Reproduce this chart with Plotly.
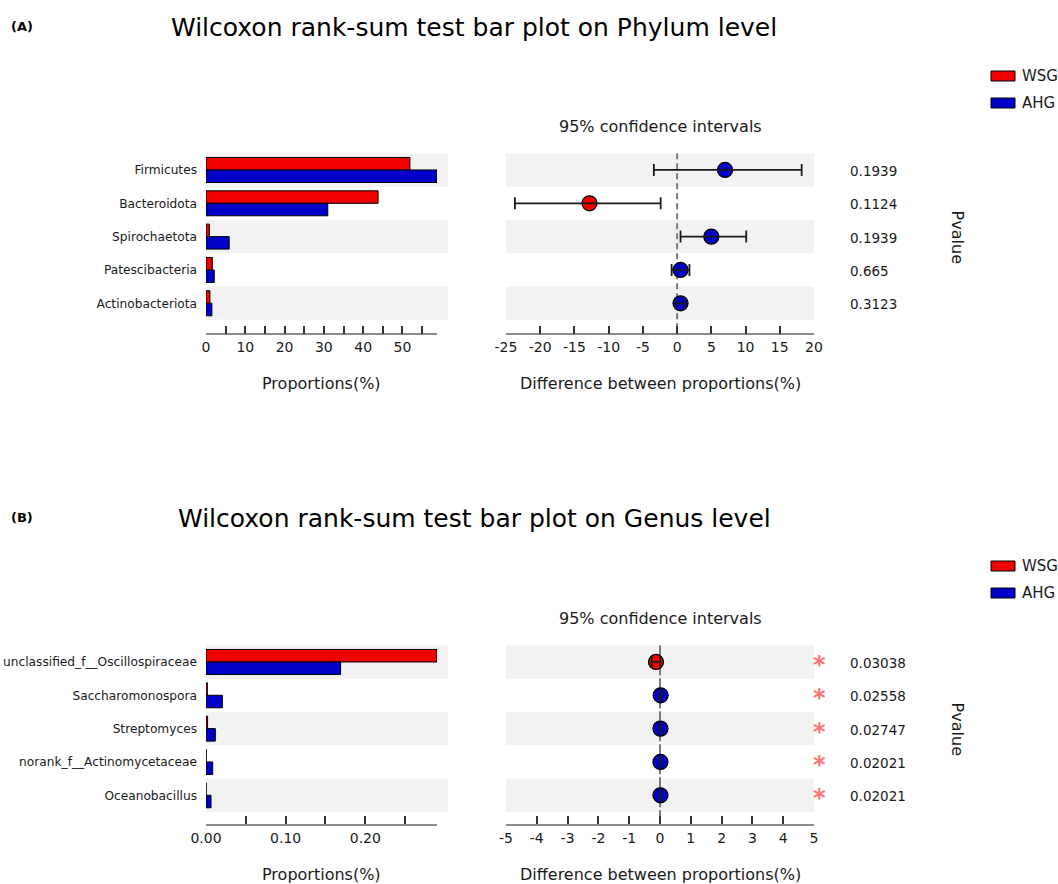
import plotly.graph_objects as go

# ---------------- data ----------------
phylum = ["Firmicutes", "Bacteroidota", "Spirochaetota", "Patescibacteria", "Actinobacteriota"]
phylum_wsg = [51.9, 43.8, 0.85, 1.6, 1.0]
phylum_ahg = [58.8, 31.0, 5.9, 2.1, 1.5]
phylum_diff = [7.0, -12.8, 5.0, 0.5, 0.5]
phylum_ci_low = [-3.4, -23.7, 0.5, -0.8, -0.2]
phylum_ci_high = [18.2, -2.4, 10.1, 1.8, 1.2]
phylum_p = ["0.1939", "0.1124", "0.1939", "0.665", "0.3123"]

genus = ["unclassified_f__Oscillospiraceae", "Saccharomonospora", "Streptomyces",
         "norank_f__Actinomycetaceae", "Oceanobacillus"]
genus_wsg = [0.290, 0.0017, 0.0020, 0.0002, 0.0001]
genus_ahg = [0.169, 0.0205, 0.0117, 0.0084, 0.0063]
genus_diff = [-0.13, 0.02, 0.015, 0.015, 0.015]
genus_ci_low = [-0.27, 0.005, 0.004, 0.004, 0.004]
genus_ci_high = [0.01, 0.035, 0.026, 0.026, 0.026]
genus_p = ["0.03038", "0.02558", "0.02747", "0.02021", "0.02021"]

groups = ["WSG", "AHG"]
group_colors = {"WSG": "#F00000", "AHG": "#0000C8"}

# ---------------- layout helpers ----------------
W, H = 1058, 884
FONT = "DejaVu Sans"
TXT = "#1a1a1a"
BAND = "#F2F2F2"
AXIS = "#8a8a8a"


def px(x):
    return x / W


def py(y):
    return 1 - y / H


fig = go.Figure()

panels = [
    dict(rows=phylum, wsg=phylum_wsg, ahg=phylum_ahg, diff=phylum_diff,
         lo=phylum_ci_low, hi=phylum_ci_high, p=phylum_p, stars=False,
         top=153.3, axis=333.3, title="Wilcoxon rank-sum test bar plot on Phylum level",
         tag="(A)", title_y=27, legend_y=76, ci_range=[-25, 20], ci_step=5,
         bar_ticks=None, dash="6px,4px"),
    dict(rows=genus, wsg=genus_wsg, ahg=genus_ahg, diff=genus_diff,
         lo=genus_ci_low, hi=genus_ci_high, p=genus_p, stars=True,
         top=645.3, axis=824, title="Wilcoxon rank-sum test bar plot on Genus level",
         tag="(B)", title_y=518, legend_y=566, ci_range=[-5, 5], ci_step=1,
         bar_ticks="genus", dash="30px,3px"),
]

ROW = 33.33
BAR_X0, BAR_X1, BAND_X1 = 206, 437, 448
CI_X0, CI_X1 = 506, 814

layout_axes = {}
shapes = []
annotations = []

for k, pnl in enumerate(panels):
    bx = "x" if k == 0 else "x3"
    by = "y" if k == 0 else "y3"
    cx = "x2" if k == 0 else "x4"
    cy = "y2" if k == 0 else "y4"
    n = len(pnl["rows"])
    idx = list(range(n))
    y_bottom = -0.5 + (pnl["axis"] - pnl["top"]) / ROW
    ydom = [py(pnl["axis"]), py(pnl["top"])]

    # grouped proportion bars
    for g, vals in zip(groups, [pnl["wsg"], pnl["ahg"]]):
        fig.add_trace(go.Bar(
            x=vals, y=idx, orientation="h", name=g, xaxis=bx, yaxis=by,
            marker=dict(color=group_colors[g], line=dict(color="#000000", width=1)),
            offsetgroup=g, showlegend=False,
        ))

    # confidence-interval dots
    colors = [group_colors["AHG"] if d > 0 else group_colors["WSG"] for d in pnl["diff"]]
    fig.add_trace(go.Scatter(
        x=pnl["diff"], y=idx, mode="markers", xaxis=cx, yaxis=cy, showlegend=False,
        marker=dict(size=15, color=colors, line=dict(color="#000000", width=1.3)),
    ))
    # whiskers drawn over the dots
    fig.add_trace(go.Scatter(
        x=pnl["diff"], y=idx, mode="markers", xaxis=cx, yaxis=cy, showlegend=False,
        marker=dict(size=1, color="rgba(0,0,0,0)"),
        error_x=dict(type="data", symmetric=False,
                     array=[h - d for h, d in zip(pnl["hi"], pnl["diff"])],
                     arrayminus=[d - l for l, d in zip(pnl["lo"], pnl["diff"])],
                     color="#1a1a1a", thickness=1.8, width=6),
    ))

    # bar axis ticks
    vmax = max(max(pnl["wsg"]), max(pnl["ahg"]))
    if pnl["bar_ticks"] is None:
        tv = [5 * i for i in range(int(vmax // 5) + 1)] + [vmax]
        tt = [str(v) if v % 10 == 0 else "" for v in tv[:-1]] + [""]
    else:
        tv = [0.05 * i for i in range(int(round(vmax / 0.05 - 0.5)) + 1)] + [vmax]
        tt = [f"{v:.2f}" if i % 2 == 0 else "" for i, v in enumerate(tv[:-1])] + [""]

    lo_r, hi_r = pnl["ci_range"]
    ci_tv = list(range(lo_r, hi_r + 1, pnl["ci_step"]))
    ci_tt = [str(v) for v in ci_tv]

    common_x = dict(showline=True, linecolor=AXIS, linewidth=1.5, ticks="inside",
                    ticklen=8, tickwidth=1.5, tickcolor="#333333", showgrid=False,
                    zeroline=False, automargin=False,
                    tickfont=dict(family=FONT, size=14, color=TXT))
    layout_axes["xaxis" + ("" if k == 0 else "3")] = dict(
        common_x, domain=[px(BAR_X0), px(BAR_X1)], range=[0, vmax], anchor=by,
        tickmode="array", tickvals=tv, ticktext=tt)
    layout_axes["yaxis" + ("" if k == 0 else "3")] = dict(
        domain=ydom, range=[y_bottom, -0.5], anchor=bx, showgrid=False, zeroline=False,
        showline=False, ticks="", tickmode="array", tickvals=idx, ticktext=pnl["rows"],
        ticklabelstandoff=8, automargin=False,
        tickfont=dict(family=FONT, size=12.2, color=TXT))
    layout_axes["xaxis" + ("2" if k == 0 else "4")] = dict(
        common_x, domain=[px(CI_X0), px(CI_X1)], range=pnl["ci_range"], anchor=cy,
        tickmode="array", tickvals=ci_tv, ticktext=ci_tt)
    layout_axes["yaxis" + ("2" if k == 0 else "4")] = dict(
        domain=ydom, range=[y_bottom, -0.5], anchor=cx, showgrid=False, zeroline=False,
        showline=False, ticks="", showticklabels=False, automargin=False)

    # alternating row bands
    for i in range(0, n, 2):
        for x0, x1 in [(BAR_X0, BAND_X1), (CI_X0, CI_X1)]:
            shapes.append(dict(type="rect", xref="paper", yref=by, x0=px(x0), x1=px(x1),
                               y0=i - 0.5, y1=i + 0.5, fillcolor=BAND, line=dict(width=0),
                               layer="below"))
    # zero reference line
    shapes.append(dict(type="line", xref=cx, yref=cy, x0=0, x1=0, y0=-0.5, y1=y_bottom,
                       line=dict(color="#7a7a7a", width=2, dash=pnl["dash"]), layer="below"))

    # p-values and significance marks
    for i, p in enumerate(pnl["p"]):
        annotations.append(dict(text=p, xref="paper", yref=cy, x=px(848), y=i,
                                xanchor="left", yanchor="middle", showarrow=False,
                                yshift=-1, font=dict(family=FONT, size=13.5, color=TXT)))
        if pnl["stars"]:
            annotations.append(dict(text="<b>*</b>", xref="paper", yref=cy, x=px(819), y=i,
                                    xanchor="center", yanchor="middle", showarrow=False,
                                    yshift=-3, font=dict(family=FONT, size=24, color="#FF7373")))
    annotations.append(dict(text="Pvalue", xref="paper", yref=cy, x=px(957), y=2,
                            textangle=90, xanchor="center", yanchor="middle", showarrow=False,
                            font=dict(family=FONT, size=16, color=TXT)))

    # titles
    annotations.append(dict(text=pnl["title"], xref="paper", yref="paper", x=px(474),
                            y=py(pnl["title_y"]), xanchor="center", yanchor="middle",
                            showarrow=False, font=dict(family=FONT, size=25, color="#000000")))
    annotations.append(dict(text="<b>" + pnl["tag"] + "</b>", xref="paper", yref="paper",
                            x=px(9), y=py(pnl["title_y"] - 1), xanchor="left", yanchor="middle",
                            showarrow=False, font=dict(family=FONT, size=13, color="#000000")))
    annotations.append(dict(text="95% confidence intervals", xref="paper", yref="paper",
                            x=px(660), y=py(pnl["top"] - 27), xanchor="center",
                            yanchor="middle", showarrow=False,
                            font=dict(family=FONT, size=16, color=TXT)))
    for label, cxp in [("Proportions(%)", 321), ("Difference between proportions(%)", 660)]:
        annotations.append(dict(text=label, xref="paper", yref="paper", x=px(cxp),
                                y=py(pnl["axis"] + 50), xanchor="center", yanchor="middle",
                                showarrow=False, font=dict(family=FONT, size=16, color=TXT)))

    # group key
    for j, g in enumerate(groups):
        yc = pnl["legend_y"] + 27 * j
        shapes.append(dict(type="rect", xref="paper", yref="paper",
                           x0=px(991), x1=px(1015), y0=py(yc + 5), y1=py(yc - 5),
                           fillcolor=group_colors[g], line=dict(color="#000000", width=1)))
        annotations.append(dict(text=g, xref="paper", yref="paper", x=px(1020), y=py(yc),
                                xanchor="left", yanchor="middle", showarrow=False,
                                font=dict(family=FONT, size=15, color=TXT)))

fig.update_layout(
    width=W, height=H, margin=dict(l=0, r=0, t=0, b=0),
    paper_bgcolor="#FFFFFF", plot_bgcolor="rgba(0,0,0,0)",
    barmode="group", bargap=0.25, bargroupgap=0,
    showlegend=False, shapes=shapes, annotations=annotations,
    font=dict(family=FONT, color=TXT),
    **layout_axes,
)

fig.write_html("out.html")
